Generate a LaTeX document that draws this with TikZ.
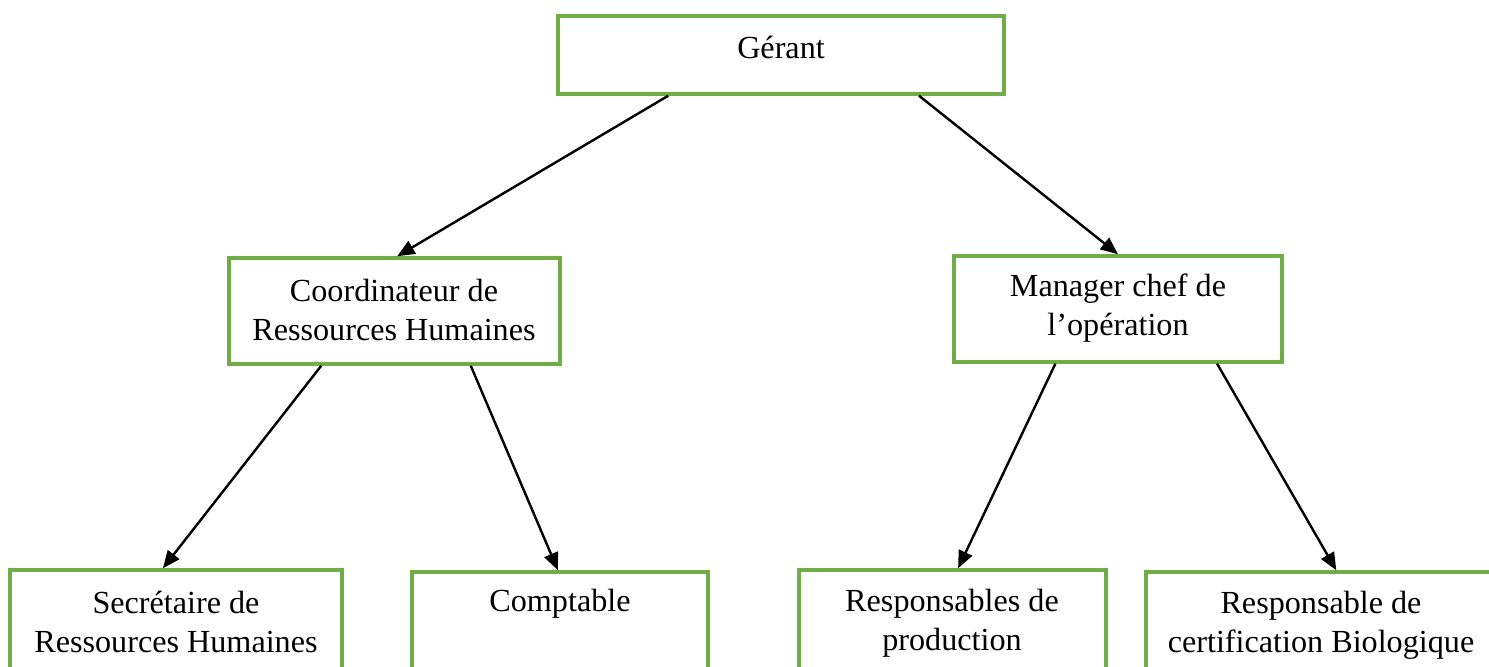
\documentclass[tikz,border=0pt]{standalone}
\usepackage{fontspec}
\setmainfont{Liberation Serif}
\usetikzlibrary{arrows.meta,calc,fit}
\definecolor{boxgreen}{HTML}{70AD47}
\begin{document}
\begin{tikzpicture}[x=0.373pt,y=-0.373pt,
  box/.style={draw=boxgreen,line width=1.3pt,inner sep=0pt,fill=none},
  txt/.style={font=\fontsize{12}{14.4}\selectfont,align=center,inner sep=0pt,text=black},
  arr/.style={line width=0.9pt,-{Triangle[length=6.5pt,width=5.4pt]}}]
\useasboundingbox (0,0) rectangle (1489,666);
\node[box,fit={(558,16) (1004,94)}] (g) {};
\node[txt] (gt) at (781,47) {Gérant};
\node[box,fit={(229,258) (560,364)}] (c) {};
\node[txt] (ct) at (394,310) {Coordinateur de\\Ressources Humaines};
\node[box,fit={(954,256) (1282,362)}] (m) {};
\node[txt] (mt) at (1118,308) {Manager chef de\\l’opération};
\node[box,fit={(10,570) (342,700)}] (s) {};
\node[txt] (st) at (176,622) {Secrétaire de\\Ressources Humaines};
\node[box,fit={(412,572) (708,700)}] (k) {};
\node[txt] (kt) at (560,604) {Comptable};
\node[box,fit={(799,570) (1106,700)}] (p) {};
\node[txt] (pt) at (952,623) {Responsables de\\production};
\node[box,fit={(1146,572) (1500,700)}] (r) {};
\node[txt] (rt) at (1321,625) {Responsable de\\certification Biologique};
\draw[arr] ($(g.south west)!0.249!(g.south east)$) -- ($(c.north west)!0.508!(c.north east)$);
\draw[arr] ($(g.south west)!0.807!(g.south east)$) -- ($(m.north west)!0.5!(m.north east)$);
\draw[arr] ($(c.south west)!0.281!(c.south east)$) -- ($(s.north west)!0.461!(s.north east)$);
\draw[arr] ($(c.south west)!0.728!(c.south east)$) -- ($(k.north west)!0.493!(k.north east)$);
\draw[arr] ($(m.south west)!0.311!(m.south east)$) -- ($(p.north west)!0.518!(p.north east)$);
\draw[arr] ($(m.south west)!0.799!(m.south east)$) -- ($(r.north west)!0.537!(r.north east)$);
\end{tikzpicture}
\end{document}
